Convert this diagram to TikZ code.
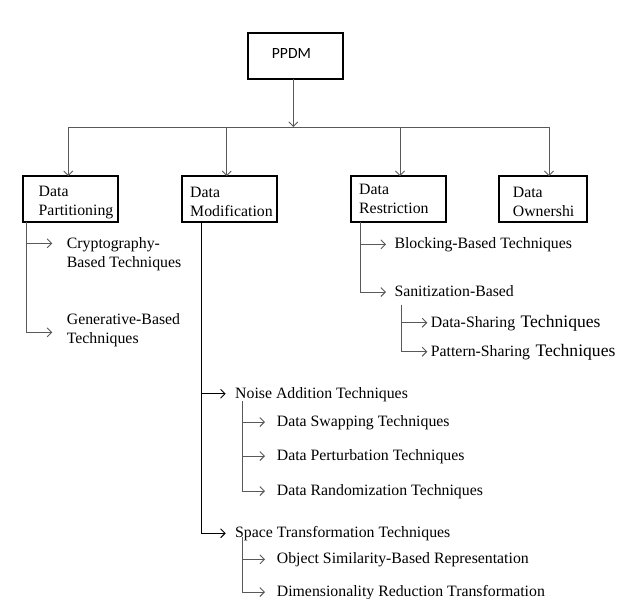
\documentclass[tikz,border=0pt]{standalone}
\usepackage{fontspec}
\setmainfont{Liberation Serif}
\newfontfamily\ppdmfont{Carlito}
\usetikzlibrary{arrows.meta}
\newcommand{\itemsize}{\fontsize{15.8}{18.5}\selectfont}
\newcommand{\bigsize}{\fontsize{17.6}{18.5}\selectfont}

\begin{document}
\begin{tikzpicture}[x=1pt, y=-1pt,
	box/.style={draw, line width=2.2pt, outer sep=0pt, inner sep=0pt, anchor=north west},
	txt/.style={inner sep=0pt, anchor=west, font=\itemsize, text height=12pt, text depth=3pt},
	multi/.style={inner sep=0pt, anchor=north west, font=\itemsize, align=left},
	conn/.style={draw=black!65, line width=0.9pt},
	arr/.style={conn, -{Straight Barb[length=4.5pt, width=9pt]}}]
	\fill[white] (0,0) rectangle (617,598);
	\useasboundingbox (0,0) rectangle (617,598);

	\node[box, minimum width=95.4pt, minimum height=46.1pt] (ppdm) at (247.8,32.8) {};
	\node[txt, font=\ppdmfont\fontsize{15.6}{18}\selectfont] (ppdmlbl) at (271.7,54.3) {PPDM};

	\node[box, minimum width=95.1pt, minimum height=45.5pt] (part) at (23.1,176.1) {};
	\node[box, minimum width=95.4pt, minimum height=45.5pt] (modif) at (181.8,176.1) {};
	\node[box, minimum width=94.8pt, minimum height=45.5pt] (restr) at (351.1,176.1) {};
	\node[box, minimum width=88.4pt, minimum height=45.5pt] (owner) at (498.8,176.1) {};
	\node[multi] (partlbl) at (38.5,186.4) {Data\\Partitioning};
	\node[multi] (modiflbl) at (190,187) {Data\\Modification};
	\node[multi] (restrlbl) at (359,184) {Data\\Restriction};
	\node[multi] (ownerlbl) at (512.7,187) {Data\\Ownershi};

	\coordinate (hub) at (293.3,127);
	\coordinate (b1) at (68.3,127);
	\coordinate (b2) at (226.7,127);
	\coordinate (b3) at (400,127);
	\coordinate (b4) at (549,127);
	\draw[arr] (hub |- ppdm.south) -- (hub);
	\draw[conn] (b1) -- (b4);
	\draw[arr] (b1) -- (b1 |- part.north);
	\draw[arr] (b2) -- (b2 |- modif.north);
	\draw[arr] (b3) -- (b3 |- restr.north);
	\draw[arr] (b4) -- (b4 |- owner.north);

	\node[multi] (crypto) at (66.7,237.7) {Cryptography-\\Based Techniques};
	\node[multi] (gener) at (66.7,313.7) {Generative-Based\\Techniques};
	\node[txt] (block) at (394.3,244.3) {Blocking-Based Techniques};
	\node[txt] (sanit) at (394.3,292) {Sanitization-Based};
	\node[txt] (dshare) at (430.7,322.7) {Data-Sharing\hspace{1.5pt} {\bigsize Techniques}};
	\node[txt] (pshare) at (430.7,351.7) {Pattern-Sharing\hspace{1.5pt} {\bigsize Techniques}};
	\node[txt] (noise) at (235,393.7) {Noise Addition Techniques};
	\node[txt] (swap) at (276.7,422) {Data Swapping Techniques};
	\node[txt] (perturb) at (276.7,456) {Data Perturbation Techniques};
	\node[txt] (random) at (276.7,491) {Data Randomization Techniques};
	\node[txt] (space) at (235,533.3) {Space Transformation Techniques};
	\node[txt] (objsim) at (276.7,559.3) {Object Similarity-Based Representation};
	\node[txt] (dimred) at (276.7,592) {Dimensionality Reduction Transformation};

	\draw[arr, shorten >=14.4pt] ([xshift=3.6pt]part.south west) |- ([yshift=-5.6pt]crypto.north west);
	\draw[arr, shorten >=14.4pt] ([xshift=3.6pt]part.south west) |- ([yshift=-2pt]gener.west);

	\draw[arr, draw=black, shorten >=9.3pt] ([xshift=19.7pt]modif.south west) |- (space.west);
	\draw[arr, draw=black, shorten >=9.3pt] ([xshift=19.7pt]modif.south west) |- (noise.west);
	\draw[arr, shorten >=11.7pt] ([xshift=7.3pt]noise.south west) |- (swap.west);
	\draw[arr, shorten >=11.7pt] ([xshift=7.3pt]noise.south west) |- (perturb.west);
	\draw[arr, shorten >=11.7pt] ([xshift=7.3pt]noise.south west) |- (random.west);
	\draw[arr, shorten >=11.7pt] ([xshift=7.3pt, yshift=4pt]space.south west) |- (objsim.west);
	\draw[arr, shorten >=11.7pt] ([xshift=7.3pt, yshift=4pt]space.south west) |- (dimred.west);

	\draw[arr, shorten >=8.3pt] ([xshift=8.9pt]restr.south west) |- (block.west);
	\draw[arr, shorten >=8.3pt] ([xshift=8.9pt]restr.south west) |- (sanit.west);
	\draw[arr, shorten >=3.4pt] ([xshift=6.7pt, yshift=-4.8pt]sanit.south west) |- (dshare.west);
	\draw[arr, shorten >=3.4pt] ([xshift=6.7pt, yshift=-4.8pt]sanit.south west) |- (pshare.west);
\end{tikzpicture}
\end{document}
